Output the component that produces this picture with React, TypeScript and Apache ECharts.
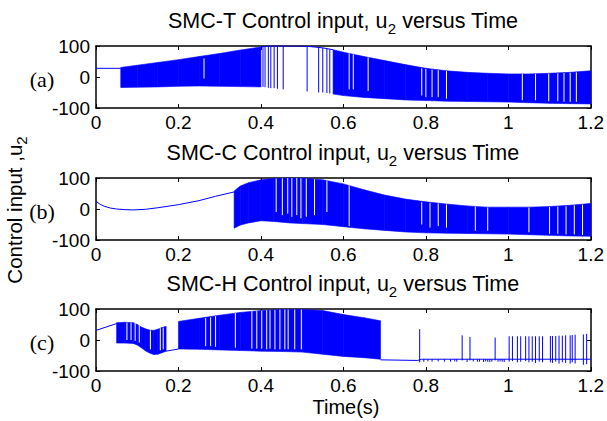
import React, { useEffect, useRef } from 'react';
import * as echarts from 'echarts';

// ---------- tick labels / text ----------
const xTicks = [0, 0.2, 0.4, 0.6, 0.8, 1, 1.2];
const yTicks = [-100, 0, 100];
const panelTitles = ['SMC-T Control input, u{sub|2} versus Time', 'SMC-C Control input, u{sub|2} versus Time', 'SMC-H Control input, u{sub|2} versus Time'];
const panelTags = ['(a)', '(b)', '(c)'];
const yName = 'Control input ,u{sub|2}';
const xName = 'Time(s)';

// ---------- panel (a): SMC-T ----------
const aLine1T = [0, 0.06];
const aLine1V = [28, 28];
const aLine2T = [0.40, 0.415, 0.49, 0.52, 0.55, 0.575];
const aLine2V = [97, 100, 100, 98, 94, 88];
const aBand1T = [0.06, 0.1, 0.15, 0.2, 0.25, 0.3, 0.35, 0.4];
const aBand1Hi = [31, 38, 47, 56, 66, 76, 87, 97];
const aBand1Lo = [-34, -33, -32, -30, -29, -30, -31, -32];
const aBand2T = [0.575, 0.6, 0.65, 0.7, 0.75, 0.8, 0.85, 0.9, 0.95, 1.0, 1.05, 1.1, 1.15, 1.2];
const aBand2Hi = [88, 80, 66, 53, 40, 28, 20, 15, 12, 10, 10, 12, 15, 20];
const aBand2Lo = [-55, -60, -66, -70, -74, -76, -78, -79, -80, -81, -83, -85, -86, -87];
const aSpikeT = [0.405, 0.41, 0.418, 0.424, 0.432, 0.44, 0.454, 0.512, 0.54, 0.55, 0.56, 0.567];
const aSpikeHi = [99, 100, 100, 100, 100, 100, 100, 98, 95, 94, 92, 90];
const aSpikeLo = [-32, -33, -35, -36, -36, -38, -40, -47, -50, -50, -52, -53];
const aGapT = [0.262, 0.614, 0.624, 0.66, 0.79, 0.80, 0.815, 0.83, 0.85, 1.034, 1.066, 1.098, 1.12, 1.135, 1.15, 1.165];
const aGapHi = [60, 76, 73, 63, 28, 26, 24, 22, 19, 10, 10, 11, 12, 13, 14, 15];
const aGapLo = [-5, -40, -40, -45, -60, -65, -65, -65, -70, -75, -75, -78, -78, -80, -80, -80];

// ---------- panel (b): SMC-C ----------
const bLineT = [0, 0.01, 0.02, 0.035, 0.05, 0.07, 0.09, 0.12, 0.15, 0.2, 0.25, 0.29, 0.335];
const bLineV = [25, 15, 9, 3, 0, -2, -3, -1, 4, 14, 27, 41, 55];
const bBandT = [0.335, 0.35, 0.37, 0.4, 0.43, 0.47, 0.5, 0.55, 0.6, 0.65, 0.7, 0.75, 0.8, 0.85, 0.9, 0.95, 1.0, 1.05, 1.1, 1.15, 1.2];
const bBandHi = [58, 74, 85, 94, 98, 100, 99, 94, 81, 62, 45, 32, 23, 16, 10, 6, 6, 6, 8, 12, 18];
const bBandLo = [-62, -52, -45, -38, -40, -45, -47, -50, -57, -64, -69, -74, -77, -78, -79, -80, -81, -83, -85, -87, -88];
const bGapT = [0.437, 0.452, 0.465, 0.475, 0.487, 0.497, 0.51, 0.53, 0.56, 0.614, 0.79, 0.81, 0.83, 0.85, 0.92, 0.95, 1.05, 1.1, 1.12, 1.14, 1.16, 1.18];
const bGapHi = [98, 99, 100, 100, 100, 99, 98, 96, 92, 76, 22, 20, 18, 15, 8, 5, 5, 7, 8, 9, 12, 14];
const bGapLo = [-10, -20, -15, -25, -20, -30, -25, -20, -10, -55, -50, -60, -55, -60, -70, -70, -75, -80, -80, -82, -82, -84];

// ---------- panel (c): SMC-H ----------
const cLine1T = [0, 0.05];
const cLine1V = [31, 53];
const cLine2T = [0.17, 0.2];
const cLine2V = [-36, -29];
const cLine3T = [0.69, 0.78, 0.79, 1.2];
const cLine3V = [-64, -66, -62, -62];
const cBand1T = [0.05, 0.07, 0.09, 0.1, 0.11, 0.12, 0.13, 0.14, 0.15, 0.16, 0.17];
const cBand1Hi = [56, 57, 56, 50, 42, 36, 32, 31, 35, 40, 44];
const cBand1Lo = [-10, -10, -11, -16, -25, -35, -42, -47, -46, -41, -36];
const cBand2T = [0.2, 0.25, 0.3, 0.35, 0.4, 0.45, 0.5, 0.55, 0.6, 0.65, 0.69];
const cBand2Hi = [60, 70, 80, 89, 95, 98, 98, 95, 82, 72, 62];
const cBand2Lo = [-29, -30, -32, -34, -36, -37, -39, -46, -53, -57, -62];
const cGapT = [0.075, 0.085, 0.095, 0.105, 0.132, 0.156, 0.163, 0.266, 0.278, 0.29, 0.338, 0.378, 0.39, 0.402, 0.414, 0.422, 0.434, 0.446, 0.458, 0.466, 0.482, 0.498];
const cGapHi = [56, 56, 55, 48, 31, 38, 40, 71, 73, 77, 87, 93, 94, 95, 96, 96, 97, 98, 98, 98, 98, 98];
const cGapLo = [0, 0, -3, -8, -30, -33, -30, -20, -20, -22, -25, -28, -28, -28, -30, -28, -30, -30, -30, -30, -30, -30];
const cSpikeT = [0.785, 0.888, 0.907, 0.968, 1.002, 1.01, 1.022, 1.03, 1.042, 1.05, 1.058, 1.066, 1.075, 1.083, 1.102, 1.107, 1.115, 1.123, 1.131, 1.139, 1.15, 1.155, 1.162, 1.182, 1.19];
const cSpikeHi = [35, 15, 10, 8, 12, 12, 12, 12, 12, 12, 12, 12, 12, 12, 13, 13, 13, 14, 14, 15, 15, 16, 17, 18, 20];
const cSpikeLo = [-72, -66, -66, -66, -70, -68, -72, -70, -68, -72, -70, -74, -70, -72, -72, -74, -70, -76, -72, -74, -76, -72, -76, -80, -78];
const cDipT = [0.795, 0.805, 0.815, 0.83, 0.845, 0.86, 0.87, 0.875, 0.9, 0.915, 0.925, 0.93, 0.94, 0.945, 0.95, 0.955, 0.96, 0.975, 0.98, 0.985, 0.99];
const cDipLo = [-70, -69, -70, -69, -70, -70, -69, -70, -71, -69, -70, -70, -71, -69, -70, -71, -70, -70, -69, -70, -71];
const cDipHi = cDipT.map(() => -62);

const BLUE = '#0000ff';
const FONT = 'Liberation Sans';
const FS = 19;

function lineSeries(T: number[], V: number[], ax: number) {
  return {
    type: 'line', xAxisIndex: ax, yAxisIndex: ax, silent: true, showSymbol: false, symbol: 'none',
    lineStyle: { color: BLUE, width: 1 },
    data: T.map((t, k) => [t, V[k]]),
  };
}

function bandSeries(T: number[], Hi: number[], Lo: number[], ax: number) {
  return {
    type: 'custom', xAxisIndex: ax, yAxisIndex: ax, silent: true,
    data: T.map((t, k) => [t, Lo[k], Hi[k]]),
    encode: { x: 0, y: [1, 2] },
    renderItem: (params: any, api: any) => {
      const k = params.dataIndex;
      if (k >= T.length - 1) return null;
      const p1 = api.coord([T[k], Hi[k]]);
      const p2 = api.coord([T[k + 1], Hi[k + 1]]);
      const p3 = api.coord([T[k + 1], Lo[k + 1]]);
      const p4 = api.coord([T[k], Lo[k]]);
      return {
        type: 'polygon',
        shape: { points: [p1, p2, p3, p4] },
        style: { fill: BLUE, stroke: BLUE, lineWidth: 0.6 },
      };
    },
  };
}

function vlineSeries(T: number[], Hi: number[], Lo: number[], ax: number, color: string) {
  return {
    type: 'custom', xAxisIndex: ax, yAxisIndex: ax, silent: true,
    data: T.map((t, k) => [t, Lo[k], Hi[k]]),
    encode: { x: 0, y: [1, 2] },
    renderItem: (params: any, api: any) => {
      const k = params.dataIndex;
      const a = api.coord([T[k], Lo[k]]);
      const b = api.coord([T[k], Hi[k]]);
      return {
        type: 'line',
        shape: { x1: a[0], y1: a[1], x2: b[0], y2: b[1] },
        style: { stroke: color, lineWidth: 1 },
      };
    },
  };
}

const gridTops = [46, 178, 309];
const GRID_LEFT = 96;
const GRID_W = 500;
const GRID_H = 62;

function buildOption() {
  const grid = gridTops.map((top) => ({ left: GRID_LEFT, top, width: GRID_W, height: GRID_H, containLabel: false }));
  const xAxis: any[] = [];
  const yAxis: any[] = [];
  gridTops.forEach((_, i) => {
    const common = {
      type: 'value', gridIndex: i, min: xTicks[0], max: xTicks[xTicks.length - 1], interval: 0.2,
      splitLine: { show: false },
      axisLine: { show: true, onZero: false, lineStyle: { color: '#000', width: 1.5 } },
      axisTick: { show: true, inside: true, length: 4, lineStyle: { color: '#000', width: 1 } },
    };
    xAxis.push({
      ...common, position: 'bottom',
      axisLabel: {
        show: true, margin: 5, color: '#000', fontSize: FS, fontFamily: FONT, showMaxLabel: true, showMinLabel: true,
        formatter: (v: number) => String(Math.round(v * 10) / 10),
      },
    });
    xAxis.push({ ...common, position: 'top', axisLabel: { show: false } });
    const ycommon = {
      type: 'value', gridIndex: i, min: yTicks[0], max: yTicks[yTicks.length - 1], interval: 100,
      splitLine: { show: false },
      axisLine: { show: true, onZero: false, lineStyle: { color: '#000', width: 1.5 } },
      axisTick: { show: true, inside: true, length: 4, lineStyle: { color: '#000', width: 1 } },
    };
    yAxis.push({
      ...ycommon, position: 'left',
      axisLabel: { show: true, margin: 6, color: '#000', fontSize: FS, fontFamily: FONT, showMaxLabel: true, showMinLabel: true },
    });
    yAxis.push({ ...ycommon, position: 'right', axisLabel: { show: false } });
  });

  const series: any[] = [
    // (a)
    bandSeries(aBand1T, aBand1Hi, aBand1Lo, 0),
    bandSeries(aBand2T, aBand2Hi, aBand2Lo, 0),
    vlineSeries(aGapT, aGapHi, aGapLo, 0, '#ffffff'),
    vlineSeries(aSpikeT, aSpikeHi, aSpikeLo, 0, BLUE),
    lineSeries(aLine1T, aLine1V, 0),
    lineSeries(aLine2T, aLine2V, 0),
    // (b)
    lineSeries(bLineT, bLineV, 2),
    bandSeries(bBandT, bBandHi, bBandLo, 2),
    vlineSeries(bGapT, bGapHi, bGapLo, 2, '#ffffff'),
    // (c)
    lineSeries(cLine1T, cLine1V, 4),
    bandSeries(cBand1T, cBand1Hi, cBand1Lo, 4),
    lineSeries(cLine2T, cLine2V, 4),
    bandSeries(cBand2T, cBand2Hi, cBand2Lo, 4),
    vlineSeries(cGapT, cGapHi, cGapLo, 4, '#ffffff'),
    lineSeries(cLine3T, cLine3V, 4),
    vlineSeries(cSpikeT, cSpikeHi, cSpikeLo, 4, BLUE),
    vlineSeries(cDipT, cDipHi, cDipLo, 4, BLUE),
  ];

  const subRich = { sub: { fontSize: 15, fontFamily: FONT, fill: '#000', padding: [14, 0, 0, 0] } };
  const graphic: any[] = [];
  gridTops.forEach((top, i) => {
    graphic.push({
      type: 'text', x: GRID_LEFT + GRID_W / 2 - 3, y: top - 25, silent: true,
      style: { text: panelTitles[i], fontSize: 21.5, fontFamily: FONT, fill: '#000', align: 'center', verticalAlign: 'middle', rich: subRich },
    });
    graphic.push({
      type: 'text', x: 42, y: top + GRID_H / 2 + 2, silent: true,
      style: { text: panelTags[i], fontSize: 22, fontFamily: 'Liberation Serif', fill: '#000', align: 'center', verticalAlign: 'middle' },
    });
  });
  graphic.push({
    type: 'text', x: 14, y: 210, rotation: Math.PI / 2, silent: true,
    style: { text: yName, fontSize: 20.5, fontFamily: FONT, fill: '#000', align: 'center', verticalAlign: 'middle', rich: subRich },
  });
  graphic.push({
    type: 'text', x: GRID_LEFT + GRID_W / 2, y: 407, silent: true,
    style: { text: xName, fontSize: 20, fontFamily: FONT, fill: '#000', align: 'center', verticalAlign: 'middle' },
  });

  return { animation: false, backgroundColor: '#fff', grid, xAxis, yAxis, series, graphic };
}

export default function App() {
  const ref = useRef<HTMLDivElement>(null);
  useEffect(() => {
    const chart = echarts.init(ref.current!, undefined, { renderer: 'svg' });
    chart.setOption(buildOption() as any);
    return () => chart.dispose();
  }, []);
  return <div ref={ref} style={{ position: 'absolute', left: 0, top: 0, width: 607, height: 421, background: '#fff' }} />;
}
